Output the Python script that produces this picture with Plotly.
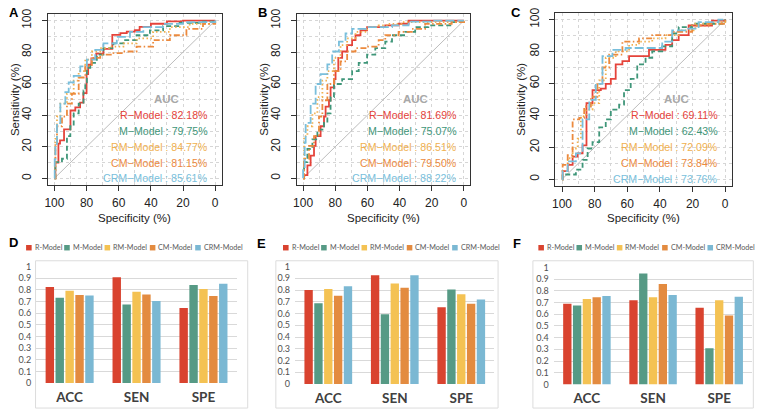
import plotly.graph_objects as go

W, H = 758, 415

models = ["R-Model", "M-Model", "RM-Model", "CM-Model", "CRM-Model"]
roc_labels = ["R\u2212Model", "M\u2212Model", "RM\u2212Model", "CM\u2212Model", "CRM\u2212Model"]
roc_colors = ["#e5433a", "#3f9679", "#f0b04f", "#ec8a3e", "#79bfdc"]
roc_dashes = ["solid", "5px,3px", "1.5px,2.5px", "6px,2.5px,1.5px,2.5px", "9px,3px"]
bar_colors = ["#d9432f", "#569a85", "#f4c253", "#e38b40", "#7bb8d3"]

# ---------------- Panel A ROC (specificity %, sensitivity %) ----------------
A_R_spec = [100, 99.4, 97.5, 96.5, 94.0, 90.0, 87.0, 84.0, 82.0, 80.0, 79.0, 77.0, 74.0, 69.5, 64.0, 59.0, 55.0, 50.0, 47.0, 40.0, 30.0, 20.0, 0]
A_R_sens = [0, 10, 22, 24, 31, 43, 45, 48, 54, 66, 72, 76, 79, 82, 91, 92, 93, 94, 96, 98, 99.5, 100, 100]
A_M_spec = [100, 99.4, 95.3, 92.2, 90.1, 88.0, 84.9, 81.9, 80.8, 79.8, 77.7, 73.6, 69.5, 63.3, 57.1, 48.9, 40.6, 32.4, 22.1, 7.6, 0]
A_M_sens = [0, 10.3, 12.4, 26.8, 33, 41.2, 47.4, 55.7, 60.8, 70.1, 73.2, 78.4, 82.5, 85.6, 87.6, 90.7, 93.8, 96.5, 98.6, 99.4, 100]
A_RM_spec = [100, 99.4, 98.4, 96.3, 92.2, 88.0, 84.9, 80.8, 76.7, 71.5, 65.4, 57.1, 48.9, 38.6, 28.2, 15.9, 3.5, 0]
A_RM_sens = [0, 25, 39.2, 47.4, 53.6, 61.9, 68.0, 75.3, 80.4, 82.5, 83.5, 85.6, 88.7, 92.8, 95.9, 97.9, 99.0, 100]
A_CM_spec = [100, 99.4, 98.4, 95.3, 92.2, 89.1, 84.9, 80.8, 76.7, 71.5, 63.3, 57.1, 48.9, 38.6, 28.2, 17.9, 7.6, 0]
A_CM_sens = [0, 22.7, 33, 39.2, 47.4, 53.6, 63.9, 71.1, 76.3, 78.4, 79.4, 80.4, 83.5, 87.6, 90.7, 94.8, 97.9, 100]
A_CRM_spec = [100, 99.8, 99.4, 98.4, 96.3, 93.2, 91.1, 88.0, 83.9, 79.8, 74.6, 69.5, 61.2, 53.0, 44.7, 32.4, 20.0, 0]
A_CRM_sens = [0, 12, 20.6, 35, 47.4, 54.6, 60.8, 65, 71, 75.3, 81.4, 85.6, 89.7, 92.8, 95.9, 97.9, 99.0, 100]
A_auc = [82.18, 79.75, 84.77, 81.15, 85.61]

# ---------------- Panel B ROC ----------------
B_R_spec = [100, 99.4, 97.3, 95.3, 93.2, 92.2, 89.1, 87.0, 86.0, 83.9, 82.9, 80.8, 79.8, 78.1, 75.7, 72.6, 69.5, 67.4, 64.3, 60.2, 48.9, 40.6, 34.4, 0]
B_R_sens = [0, 2, 8.2, 14.4, 20.6, 26.8, 33, 39.2, 45.4, 49.5, 57.7, 62.9, 68, 76.3, 80.4, 84.5, 87.6, 90.7, 93.8, 95.9, 96.9, 98, 100, 100]
B_M_spec = [100, 99.4, 97.3, 94.2, 91.1, 87.0, 84.9, 82.9, 80.8, 75.7, 69.5, 65.4, 60.2, 55.1, 48.9, 44.7, 36.5, 30.3, 22.1, 7.6, 0]
B_M_sens = [0, 10.3, 18.6, 24.7, 30.9, 35.1, 41.2, 51.5, 59.8, 62.9, 68.0, 73.2, 78.4, 82.5, 86.6, 90.7, 92.8, 95.9, 96.9, 99.0, 100]
B_RM_spec = [100, 99.4, 97.3, 94.2, 91.1, 88.0, 84.9, 80.8, 76.7, 72.6, 67.4, 60.2, 53.0, 46.8, 38.6, 0]
B_RM_sens = [0, 26.8, 33, 41.2, 51.5, 61.9, 68, 76.3, 84.5, 88.7, 92.8, 95.9, 96.9, 97.9, 99, 100]
B_CM_spec = [100, 99.4, 96.3, 93.2, 90.1, 88.0, 84.9, 80.8, 76.7, 72.6, 67.4, 60.2, 53.0, 48.9, 40.6, 32.4, 24.1, 7.6, 0]
B_CM_sens = [0, 12.4, 20.6, 26.8, 39.2, 49.5, 59.8, 68, 74.2, 80.4, 82.5, 83.5, 87.6, 90.7, 92.8, 94.8, 97.9, 99, 100]
B_CRM_spec = [100, 100, 99.0, 98.4, 95.3, 92.2, 89.1, 84.9, 81.9, 77.7, 73.6, 69.5, 59.2, 44.7, 34.4, 20.0, 0]
B_CRM_sens = [0, 6.2, 22.7, 35.1, 47.4, 59.8, 66, 72.2, 80.4, 86.6, 91.8, 94.8, 95.9, 96.9, 99.4, 100, 100]
B_auc = [81.69, 75.07, 86.51, 79.50, 88.22]

# ---------------- Panel C ROC ----------------
C_R_spec = [100, 99.6, 96.5, 93.5, 90.4, 87.4, 85.0, 81.3, 76.2, 73.2, 70.1, 67.1, 63.0, 58.9, 46.7, 36.6, 32.5, 28.5, 22.4, 8.1, 0]
C_R_sens = [0, 5.1, 9.1, 14.2, 16.2, 21.3, 47.7, 55.8, 56.8, 59.8, 62.9, 72, 74, 77.1, 81.1, 84.2, 87.2, 90.3, 96.3, 99.4, 100]
C_M_spec = [100, 99.6, 91.5, 87.4, 84.3, 81.3, 77.2, 73.2, 70.1, 65.0, 62.0, 57.9, 53.9, 48.8, 44.7, 38.6, 32.5, 28.5, 20.3, 0]
C_M_sens = [0, 3, 6.1, 12.2, 19.3, 23.3, 32.5, 37.5, 43.6, 46.7, 55.8, 62.9, 72, 76.1, 80.1, 83.2, 91.3, 95.3, 97.4, 100]
C_RM_spec = [100, 99.6, 96.5, 93.5, 90.4, 88.4, 85.4, 81.3, 77.2, 73.2, 67.1, 58.9, 52.8, 44.7, 36.6, 28.5, 18.3, 8.1, 0]
C_RM_sens = [0, 5.1, 13.2, 19.3, 25.4, 39.6, 43.6, 47.7, 61.9, 76.1, 80.1, 84.2, 86.2, 88.2, 90.3, 93.3, 97.4, 98.4, 100]
C_CM_spec = [100, 99.6, 96.5, 93.5, 89.4, 86.4, 82.3, 78.3, 75.2, 71.1, 63.0, 52.8, 44.7, 32.5, 20.3, 10.2, 0]
C_CM_sens = [0, 9.1, 15.2, 37.5, 38.5, 45.6, 51.7, 59.8, 70, 78.1, 86.2, 88.2, 90.3, 92.3, 96.3, 97.4, 100]
C_CRM_spec = [100, 99.6, 96.5, 91.5, 87.4, 83.3, 79.3, 75.2, 69.1, 61.0, 38.6, 32.5, 24.4, 16.3, 4.1, 0]
C_CRM_sens = [0, 5.1, 11.2, 16.2, 37.5, 49.7, 59.8, 77.1, 81.1, 82.2, 86.2, 93.3, 94.3, 98.4, 100, 100]
C_auc = [69.11, 62.43, 72.09, 73.84, 73.76]

# ---------------- Bar charts (ACC, SEN, SPE) ----------------
metrics = ["ACC", "SEN", "SPE"]
D_R = [0.825, 0.908, 0.644]
D_M = [0.732, 0.675, 0.841]
D_RM = [0.792, 0.783, 0.808]
D_CM = [0.755, 0.761, 0.748]
D_CRM = [0.752, 0.705, 0.853]
E_R = [0.800, 0.925, 0.653]
E_M = [0.687, 0.593, 0.805]
E_RM = [0.810, 0.855, 0.765]
E_CM = [0.752, 0.820, 0.683]
E_CRM = [0.833, 0.927, 0.720]
F_R = [0.690, 0.720, 0.656]
F_M = [0.676, 0.950, 0.310]
F_RM = [0.730, 0.745, 0.720]
F_CM = [0.745, 0.860, 0.590]
F_CRM = [0.756, 0.765, 0.750]

roc_ticks = [100, 80, 60, 40, 20, 0]
bar_ticks = [0, 0.1, 0.2, 0.3, 0.4, 0.5, 0.6, 0.7, 0.8, 0.9, 1]


def fx(px):
    return px / W


def fy(py):
    return 1 - py / H


fig = go.Figure()
annotations = []
shapes = []

roc_panels = [
    ("A", "", [(A_R_spec, A_R_sens), (A_M_spec, A_M_sens), (A_RM_spec, A_RM_sens), (A_CM_spec, A_CM_sens), (A_CRM_spec, A_CRM_sens)], A_auc,
     (44.2, 218.8, 8.5, 183.5), (3, 7), 11.7),
    ("B", "2", [(B_R_spec, B_R_sens), (B_M_spec, B_M_sens), (B_RM_spec, B_RM_sens), (B_CM_spec, B_CM_sens), (B_CRM_spec, B_CRM_sens)], B_auc,
     (294.2, 468.8, 8.5, 183.5), (253, 7), 261.7),
    ("C", "3", [(C_R_spec, C_R_sens), (C_M_spec, C_M_sens), (C_RM_spec, C_RM_sens), (C_CM_spec, C_CM_sens), (C_CRM_spec, C_CRM_sens)], C_auc,
     (554.4, 731.6, 7.4, 184.6), (508, 7), 520.0),
]

FONT = "Liberation Sans, Arial, sans-serif"
BFONT = "Lato, Open Sans, sans-serif"

for letter, sfx, curves, aucs, box, lpos, ytitle_x in roc_panels:
    xa, ya = "x" + sfx, "y" + sfx
    x0, x1, y0, y1 = box
    # diagonal reference
    fig.add_trace(go.Scatter(x=[100, 0], y=[0, 100], mode="lines", xaxis=xa, yaxis=ya,
                             line=dict(color="#bdbdbd", width=1), showlegend=False, hoverinfo="skip"))
    for i, (sx, sy) in enumerate(curves):
        fig.add_trace(go.Scatter(x=sx, y=sy, mode="lines", xaxis=xa, yaxis=ya,
                                 line=dict(color=roc_colors[i], width=1.8, dash=roc_dashes[i], shape="hv"),
                                 showlegend=False, hoverinfo="skip", name=models[i]))
    common = dict(ticks="outside", ticklen=5, tickcolor="#333", tickwidth=1,
                  showline=True, mirror=True, linecolor="#333", linewidth=1,
                  showgrid=True, gridcolor="#d6d6d6", griddash="dot", gridwidth=1,
                  minor=dict(dtick=10, tick0=0, showgrid=True, gridcolor="#d6d6d6", griddash="dot", gridwidth=1),
                  zeroline=False, tickvals=roc_ticks, tickfont=dict(family=FONT, size=12, color="#222"))
    fig.update_layout(**{
        "xaxis" + sfx: dict(domain=[fx(x0), fx(x1)], range=[104, -4], anchor=ya, ticklabelstandoff=2, **common),
        "yaxis" + sfx: dict(domain=[fy(y1), fy(y0)], range=[-4, 104], anchor=xa, tickangle=-90, ticklabelstandoff=6, **common),
    })
    annotations.append(dict(x=30, y=50, xref=xa, yref=ya, text="<b>AUC</b>", showarrow=False,
                            font=dict(family=FONT, size=11.5, color="#a8a8a8"), xanchor="center", yanchor="middle"))
    for i in range(5):
        annotations.append(dict(x=3, y=40 - 10 * i, xref=xa, yref=ya,
                                text=f"{roc_labels[i]} : {aucs[i]:.2f}%", showarrow=False,
                                font=dict(family=FONT, size=10.6, color=roc_colors[i]),
                                xanchor="right", yanchor="middle"))
    annotations.append(dict(x=fx((x0 + x1) / 2), y=fy(218), xref="paper", yref="paper", text="Specificity (%)",
                            showarrow=False, font=dict(family=FONT, size=11.5, color="#222"),
                            xanchor="center", yanchor="middle"))
    annotations.append(dict(x=fx(ytitle_x), y=fy(96), xref="paper", yref="paper", text="Sensitivity (%)",
                            showarrow=False, textangle=-90, font=dict(family=FONT, size=11.5, color="#222"),
                            xanchor="center", yanchor="middle"))
    annotations.append(dict(x=fx(lpos[0]), y=fy(lpos[1]), xref="paper", yref="paper", text=f"<b>{letter}</b>",
                            showarrow=False, font=dict(family=FONT, size=13, color="#000"),
                            xanchor="left", yanchor="middle"))

bar_panels = [
    ("D", "4", [D_R, D_M, D_RM, D_CM, D_CRM], (32.35, 234.15, 267.3, 387.3), (31.7, 245, 261.7, 413), 25.0, (3, 243)),
    ("E", "5", [E_R, E_M, E_RM, E_CM, E_CRM], (292.6, 493.1, 267.3, 388.3), (273.3, 496.7, 261.7, 413), 283.3, (252.5, 243.5)),
    ("F", "6", [F_R, F_M, F_RM, F_CM, F_CRM], (552.75, 752.25, 268.3, 388.7), (531.7, 753.3, 261.7, 413), 540.0, (509.5, 244)),
]
legend_offsets = [0, 38.3, 78.9, 124.4, 170]

for letter, sfx, series, dom, frame, leg_x, lpos in bar_panels:
    xa, ya = "x" + sfx, "y" + sfx
    shapes.append(dict(type="rect", xref="paper", yref="paper", x0=fx(frame[0]), x1=fx(frame[1]),
                       y0=fy(frame[3]), y1=fy(frame[2]), line=dict(color="#dcdcdc", width=1), layer="below"))
    for i, vals in enumerate(series):
        fig.add_trace(go.Bar(x=metrics, y=vals, xaxis=xa, yaxis=ya, marker=dict(color=bar_colors[i], line=dict(width=0)),
                             name=models[i], showlegend=False, hoverinfo="skip"))
    fig.update_layout(**{
        "xaxis" + sfx: dict(domain=[fx(dom[0]), fx(dom[1])], anchor=ya, type="category", range=[-0.5, 2.5],
                            showgrid=False, showline=False, zeroline=False, ticks="",
                            tickfont=dict(family=BFONT, size=13.5, color="#404040", weight="bold"),
                            ticklabelstandoff=4),
        "yaxis" + sfx: dict(domain=[fy(dom[3]), fy(dom[2])], anchor=xa, range=[0, 1.003],
                            tickvals=bar_ticks, ticktext=[f"{v:g}" for v in bar_ticks],
                            showgrid=True, gridcolor="#d9d9d9", gridwidth=1, zeroline=False, showline=False,
                            ticks="", tickfont=dict(family=BFONT, size=9, color="#505050"), ticklabelstandoff=4),
    })
    for i in range(5):
        cx = leg_x + legend_offsets[i]
        shapes.append(dict(type="rect", xref="paper", yref="paper", x0=fx(cx - 2.8), x1=fx(cx + 2.8),
                           y0=fy(248.3 + 2.8), y1=fy(248.3 - 2.8), line=dict(width=0), fillcolor=bar_colors[i]))
        annotations.append(dict(x=fx(cx + 3.8), y=fy(248.3), xref="paper", yref="paper", text=models[i],
                                showarrow=False, font=dict(family=BFONT, size=7.2, color="#595959"),
                                xanchor="left", yanchor="middle"))
    annotations.append(dict(x=fx(lpos[0]), y=fy(lpos[1]), xref="paper", yref="paper", text=f"<b>{letter}</b>",
                            showarrow=False, font=dict(family=FONT, size=13, color="#000"),
                            xanchor="left", yanchor="middle"))

fig.update_layout(width=W, height=H, margin=dict(l=0, r=0, t=0, b=0),
                  paper_bgcolor="white", plot_bgcolor="white",
                  barmode="group", bargap=0.26, bargroupgap=0.15,
                  annotations=annotations, shapes=shapes, showlegend=False)

fig.write_html("out.html", config={"displayModeBar": False},
               post_script="document.body.style.margin='0';document.body.style.overflow='hidden';")
